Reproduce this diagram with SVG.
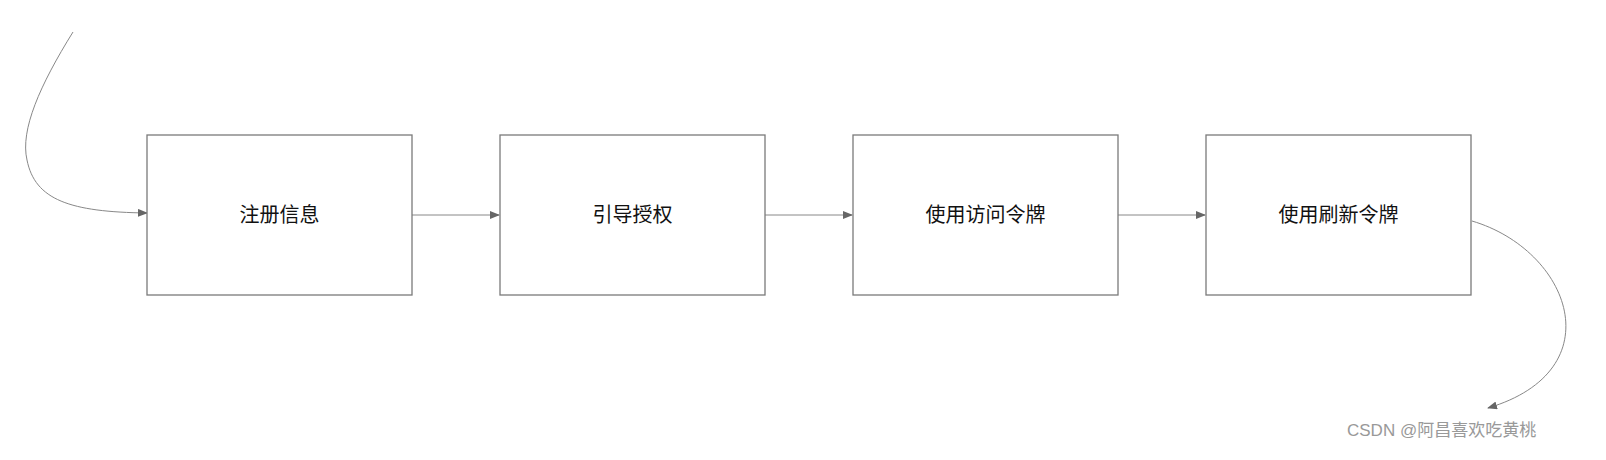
<svg xmlns="http://www.w3.org/2000/svg" width="1606" height="460" viewBox="0 0 1606 460">
<style>
.box{fill:#fff;stroke:#7a7a7a;stroke-width:1.3}
.lbl{font-family:"Liberation Sans","Noto Sans CJK SC",sans-serif;font-size:20px;fill:#111;text-anchor:middle;dominant-baseline:central}
.c{fill:none;stroke:#888;stroke-width:1;marker-end:url(#a)}
</style>
<defs><marker id="a" markerWidth="10" markerHeight="8" refX="9" refY="4" orient="auto" markerUnits="userSpaceOnUse"><path d="M0,0L10,4L0,8z" fill="#666"/></marker></defs>
<rect width="1606" height="460" fill="#fff"/>
<g id="connectors">
<path class="c" d="M73,32C40,85 20,130 27,160C35,200 70,212 147,213"/>
<line class="c" x1="412" y1="215" x2="499" y2="215"/>
<line class="c" x1="765" y1="215" x2="852" y2="215"/>
<line class="c" x1="1118" y1="215" x2="1205" y2="215"/>
<path class="c" d="M1472,221C1570,250 1615,370 1488,408"/>
</g>
<g id="n1"><rect class="box" x="147" y="135" width="265" height="160"/><text class="lbl" x="279.5" y="215">注册信息</text></g>
<g id="n2"><rect class="box" x="500" y="135" width="265" height="160"/><text class="lbl" x="632.5" y="215">引导授权</text></g>
<g id="n3"><rect class="box" x="853" y="135" width="265" height="160"/><text class="lbl" x="985.5" y="215">使用访问令牌</text></g>
<g id="n4"><rect class="box" x="1206" y="135" width="265" height="160"/><text class="lbl" x="1338.5" y="215">使用刷新令牌</text></g>
<text x="1347" y="436" font-family="Liberation Sans,'Noto Sans CJK SC',sans-serif" font-size="17" fill="#999">CSDN @阿昌喜欢吃黄桃</text>
</svg>
